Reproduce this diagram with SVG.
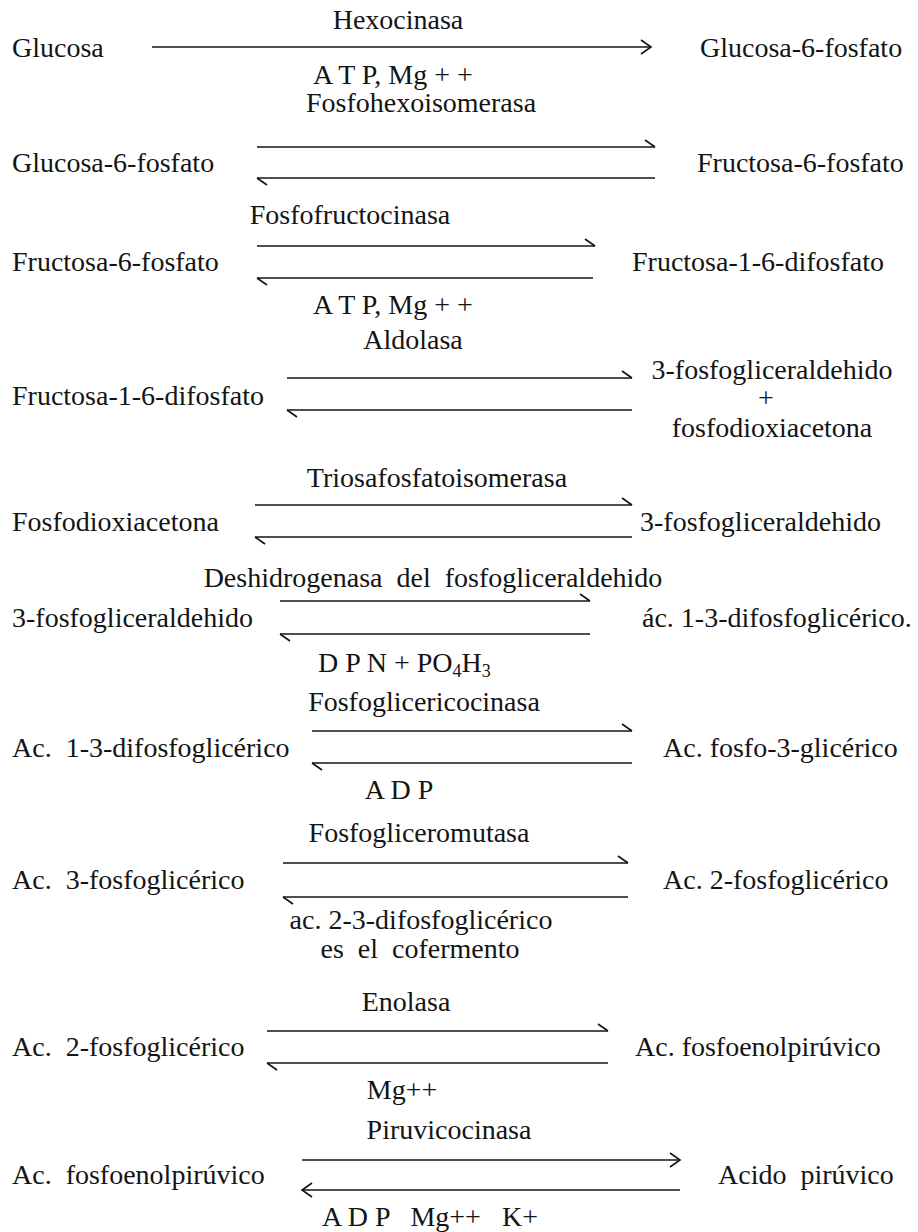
<svg xmlns="http://www.w3.org/2000/svg" width="918" height="1232" viewBox="0 0 918 1232">
<style>
text{font-family:"Liberation Serif","Times New Roman",serif;font-size:28px;fill:#141414}
.c{text-anchor:middle}
.ln{stroke:#141414;stroke-width:1.6;fill:none}
.h{marker-end:url(#harp)}
.f{marker-end:url(#full)}
</style>
<defs>
<marker id="harp" markerUnits="userSpaceOnUse" markerWidth="14" markerHeight="14" viewBox="-12 -10 14 14" refX="0" refY="0" orient="auto" overflow="visible"><path d="M-10 -7 L0 0" stroke="#141414" stroke-width="1.6" fill="none"/></marker>
<marker id="full" markerUnits="userSpaceOnUse" markerWidth="14" markerHeight="14" viewBox="-12 -7 14 14" refX="0" refY="0" orient="auto" overflow="visible"><path d="M-10 -7 L0 0 L-10 7" stroke="#141414" stroke-width="1.6" fill="none"/></marker>
</defs>
<g id="connectors">
<line class="ln f" x1="152" y1="47" x2="651" y2="47"/>
<line class="ln h" x1="257" y1="147" x2="655" y2="147"/>
<line class="ln h" x1="655" y1="178" x2="257" y2="178"/>
<line class="ln h" x1="257" y1="246" x2="595" y2="246"/>
<line class="ln h" x1="593" y1="278" x2="257" y2="278"/>
<line class="ln h" x1="287" y1="378" x2="632" y2="378"/>
<line class="ln h" x1="632" y1="410" x2="287" y2="410"/>
<line class="ln h" x1="255" y1="505" x2="632" y2="505"/>
<line class="ln h" x1="632" y1="537" x2="255" y2="537"/>
<line class="ln h" x1="280" y1="601" x2="590" y2="601"/>
<line class="ln h" x1="590" y1="634" x2="280" y2="634"/>
<line class="ln h" x1="312" y1="731" x2="632" y2="731"/>
<line class="ln h" x1="632" y1="763" x2="312" y2="763"/>
<line class="ln h" x1="283" y1="863" x2="628" y2="863"/>
<line class="ln h" x1="628" y1="897" x2="283" y2="897"/>
<line class="ln h" x1="267" y1="1031" x2="608" y2="1031"/>
<line class="ln h" x1="608" y1="1063" x2="267" y2="1063"/>
<line class="ln f" x1="302" y1="1160" x2="680" y2="1160"/>
<line class="ln f" x1="680" y1="1190" x2="302" y2="1190"/>
</g>
<g id="r1">
<text class="c" x="398" y="29">Hexocinasa</text>
<text x="12" y="57">Glucosa</text>
<text x="700" y="57">Glucosa-6-fosfato</text>
<text x="313" y="84">A T P, Mg + +</text>
</g>
<g id="r2">
<text class="c" x="421" y="112">Fosfohexoisomerasa</text>
<text x="12" y="172">Glucosa-6-fosfato</text>
<text x="697" y="172">Fructosa-6-fosfato</text>
</g>
<g id="r3">
<text class="c" x="350" y="224">Fosfofructocinasa</text>
<text x="12" y="271">Fructosa-6-fosfato</text>
<text x="632" y="271">Fructosa-1-6-difosfato</text>
<text x="313" y="314">A T P, Mg + +</text>
</g>
<g id="r4">
<text class="c" x="413" y="349">Aldolasa</text>
<text x="12" y="405">Fructosa-1-6-difosfato</text>
<text class="c" x="772" y="379">3-fosfogliceraldehido</text>
<text class="c" x="766" y="407" font-size="32">+</text>
<text class="c" x="772" y="437">fosfodioxiacetona</text>
</g>
<g id="r5">
<text class="c" x="437" y="487">Triosafosfatoisomerasa</text>
<text x="12" y="531">Fosfodioxiacetona</text>
<text x="640" y="531">3-fosfogliceraldehido</text>
</g>
<g id="r6">
<text class="c" x="433" y="587" xml:space="preserve">Deshidrogenasa  del  fosfogliceraldehido</text>
<text x="12" y="627">3-fosfogliceraldehido</text>
<text x="642" y="627">ác. 1-3-difosfoglicérico.</text>
<text x="318" y="672">D P N + PO<tspan font-size="18" dy="5">4</tspan><tspan dy="-5">H</tspan><tspan font-size="18" dy="5">3</tspan></text>
</g>
<g id="r7">
<text class="c" x="424" y="711">Fosfoglicericocinasa</text>
<text x="12" y="757" xml:space="preserve">Ac.  1-3-difosfoglicérico</text>
<text x="663" y="757">Ac. fosfo-3-glicérico</text>
<text class="c" x="399" y="799">A D P</text>
</g>
<g id="r8">
<text class="c" x="419" y="842">Fosfogliceromutasa</text>
<text x="12" y="889" xml:space="preserve">Ac.  3-fosfoglicérico</text>
<text x="663" y="889">Ac. 2-fosfoglicérico</text>
<text class="c" x="421" y="929">ac. 2-3-difosfoglicérico</text>
<text class="c" x="420" y="958" xml:space="preserve">es  el  cofermento</text>
</g>
<g id="r9">
<text class="c" x="406" y="1011">Enolasa</text>
<text x="12" y="1056" xml:space="preserve">Ac.  2-fosfoglicérico</text>
<text x="635" y="1056">Ac. fosfoenolpirúvico</text>
<text class="c" x="402" y="1099">Mg++</text>
</g>
<g id="r10">
<text class="c" x="449" y="1139">Piruvicocinasa</text>
<text x="12" y="1184" xml:space="preserve">Ac.  fosfoenolpirúvico</text>
<text x="718" y="1184" xml:space="preserve">Acido  pirúvico</text>
<text x="322" y="1226" xml:space="preserve">A D P   Mg++   K+</text>
</g>
</svg>
